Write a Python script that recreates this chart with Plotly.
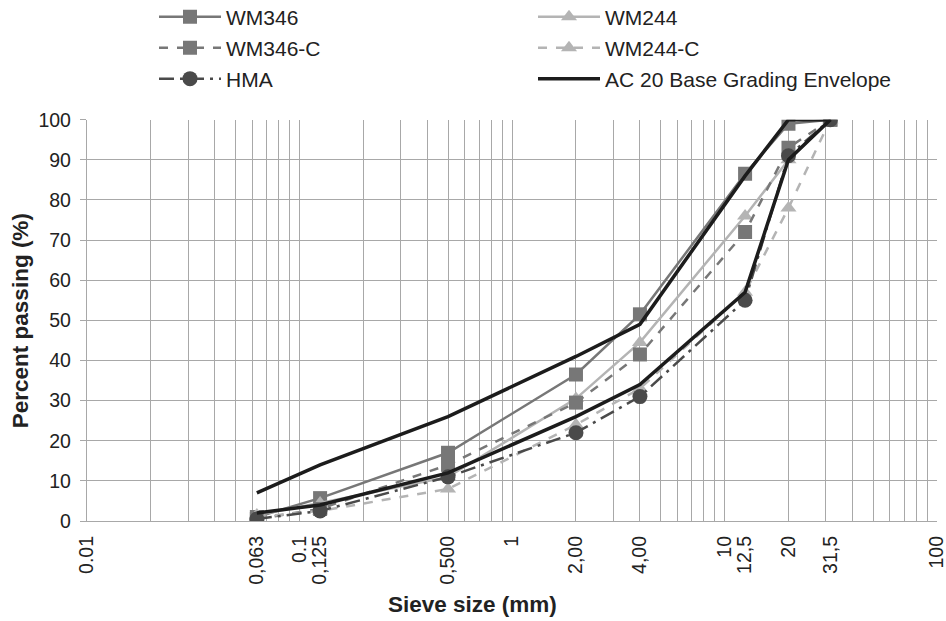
import plotly.graph_objects as go

sieve = [0.063, 0.125, 0.5, 2, 4, 12.5, 20, 31.5]
wm346 = [1, 5.7, 17, 36.5, 51.5, 86.5, 99, 100]
wm346_c = [0.5, 3, 14, 29.5, 41.5, 72, 93, 100]
wm244 = [1.5, 4.5, 11, 30.5, 44.5, 76, 90, 100]
wm244_c = [1, 2.5, 8, 24, 33, 57, 78, 100]
hma = [0.5, 2.5, 11, 22, 31, 55, 91, 100]

env_x = [0.063, 0.125, 0.5, 2, 4, 12.5, 20, 31.5, 20, 12.5, 4, 2, 0.5, 0.125, 0.063]
env_y = [7, 14, 26, 41, 49, 86, 100, 100, 90, 57, 34, 26, 12, 4, 2]

tick_vals = [0.01, 0.063, 0.1, 0.125, 0.5, 1, 2, 4, 10, 12.5, 20, 31.5, 100]
tick_text = ["0.01", "0,063", "0.1", "0,125", "0,500", "1", "2,00", "4,00",
             "10", "12,5", "20", "31,5", "100"]
decades = [0.01, 0.1, 1, 10, 100]
minor_vals = [m * d for d in [0.01, 0.1, 1, 10] for m in range(1, 10)] + [100]

MID = "#777777"
LIGHT = "#b4b4b4"
DARK = "#4a4a4a"
BLACK = "#1c1c1c"
GRID = "#a8a8a8"
TXT = "#222222"

fig = go.Figure()
fig.add_trace(go.Scatter(x=sieve, y=wm346, name="WM346", mode="lines+markers",
                         legend="legend",
                         line=dict(color=MID, width=2.5),
                         marker=dict(symbol="square", size=14, color=MID)))
fig.add_trace(go.Scatter(x=sieve, y=wm244, name="WM244", mode="lines+markers",
                         legend="legend",
                         line=dict(color=LIGHT, width=2.5),
                         marker=dict(symbol="triangle-up", size=14, color=LIGHT)))
fig.add_trace(go.Scatter(x=sieve, y=wm346_c, name="WM346-C", mode="lines+markers",
                         legend="legend2",
                         line=dict(color=MID, width=2.5, dash="dash"),
                         marker=dict(symbol="square", size=14, color=MID)))
fig.add_trace(go.Scatter(x=sieve, y=wm244_c, name="WM244-C", mode="lines+markers",
                         legend="legend2",
                         line=dict(color=LIGHT, width=2.5, dash="dash"),
                         marker=dict(symbol="triangle-up", size=14, color=LIGHT)))
fig.add_trace(go.Scatter(x=sieve, y=hma, name="HMA", mode="lines+markers",
                         legend="legend3",
                         line=dict(color=DARK, width=2.5, dash="longdashdot"),
                         marker=dict(symbol="circle", size=15, color=DARK)))
fig.add_trace(go.Scatter(x=env_x, y=env_y, name="AC 20 Base Grading Envelope",
                         legend="legend3",
                         mode="lines", line=dict(color=BLACK, width=3.5)))


def leg(row_y):
    return dict(orientation="h", x=154 / 946, y=1 - row_y / 621, xanchor="left",
                yanchor="middle", xref="container", yref="container",
                entrywidth=302, itemwidth=62, font=dict(size=21, color=TXT),
                bgcolor="rgba(0,0,0,0)", borderwidth=0)


fig.update_layout(
    width=946, height=621,
    margin=dict(l=87, r=9, t=118, b=100),
    paper_bgcolor="white", plot_bgcolor="white",
    font=dict(family="Liberation Sans, Arial, sans-serif", size=19.5, color=TXT),
    showlegend=True,
    legend=leg(17), legend2=leg(48), legend3=leg(79),
    xaxis=dict(type="log", range=[-2, 2], tickmode="array", tickvals=tick_vals,
               ticktext=tick_text, tickangle=-90, ticks="", showgrid=False,
               showline=True, linecolor=GRID, linewidth=1.3, zeroline=False,
               minor=dict(tickmode="array", tickvals=minor_vals, showgrid=True,
                          gridcolor=GRID, gridwidth=1.3, ticks=""),
               tickfont=dict(size=19.5), ticklabelstandoff=6,
               ticklabeloverflow="allow", automargin=False),
    xaxis2=dict(type="log", range=[-2, 2], overlaying="x", anchor="y", side="bottom",
                tickmode="array", tickvals=decades, showticklabels=False,
                ticks="outside", ticklen=6, tickcolor=GRID, tickwidth=1.3,
                showgrid=False, showline=False, zeroline=False),
    yaxis=dict(range=[0, 100], tickmode="array", tickvals=list(range(0, 101, 10)),
               ticks="outside", ticklen=6, tickcolor=GRID, tickwidth=1.3,
               showgrid=True, gridcolor=GRID, gridwidth=1.3,
               showline=True, linecolor=GRID, linewidth=1.3, zeroline=False,
               tickfont=dict(size=19.5), ticklabelstandoff=5),
    annotations=[
        dict(text="<b>Sieve size (mm)</b>", xref="paper", yref="paper",
             x=0.454, y=-0.208, xanchor="center", yanchor="middle",
             showarrow=False, font=dict(size=22.5, color=TXT)),
        dict(text="<b>Percent passing (%)</b>", xref="paper", yref="paper",
             x=-0.079, y=0.5, xanchor="center", yanchor="middle", textangle=-90,
             showarrow=False, font=dict(size=22.5, color=TXT)),
    ],
)

fig.write_html("out.html", config={"displayModeBar": False},
               post_script="document.body.style.margin='0px';")
